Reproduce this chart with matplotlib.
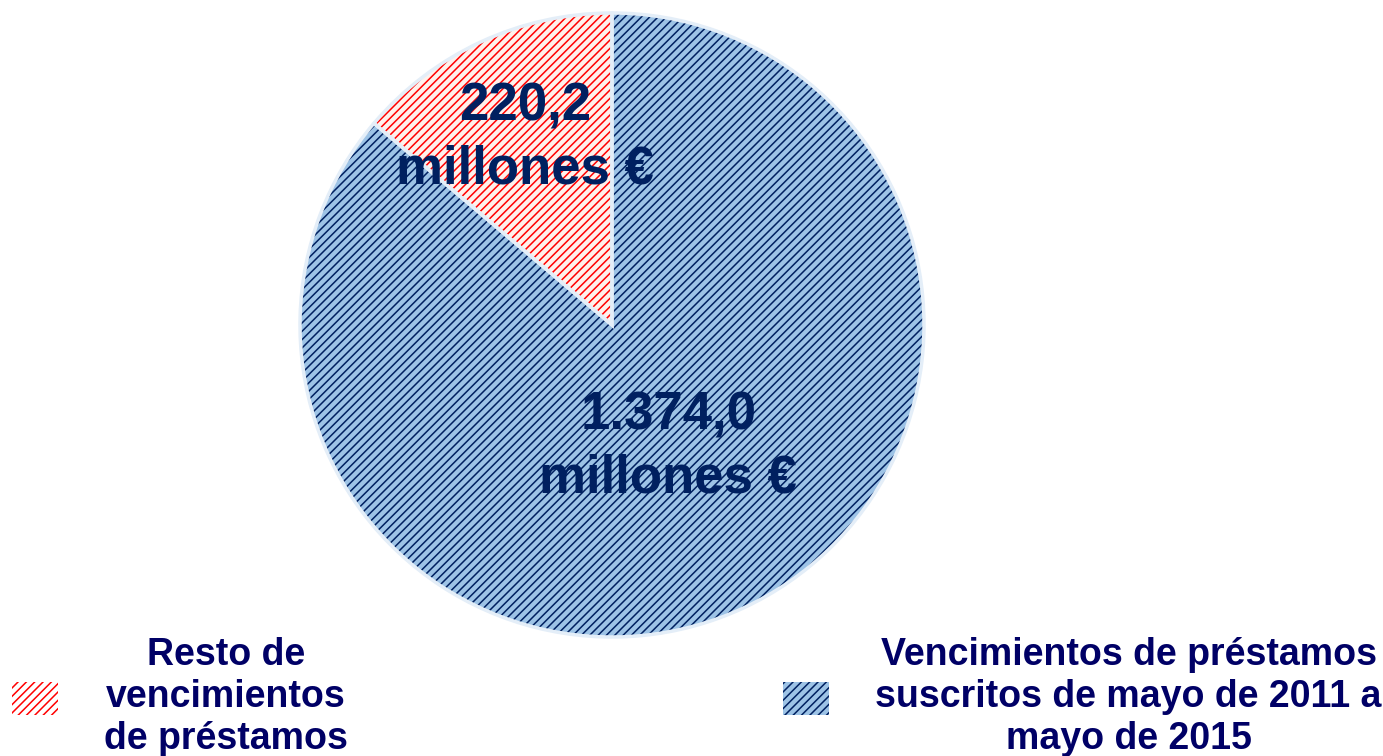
import numpy as np
import matplotlib
matplotlib.use("Agg")
import matplotlib.pyplot as plt
from matplotlib.patches import Patch

# ── data ────────────────────────────────────────────────────────────────────
labels = [
    "Vencimientos de préstamos\nsuscritos de mayo de 2011 a\nmayo de 2015",
    "Resto de\nvencimientos\nde préstamos",
]
values = [1374.0, 220.2]
value_text = ["1.374,0\nmillones €", "220,2\nmillones €"]

# ── style ───────────────────────────────────────────────────────────────────
FACE   = ["#9DC3E6", "#FFF1EC"]
HATCH  = ["#002060", "#FF0000"]
NAVY   = "#002060"
LEGTXT = "#000066"
LBL_R  = [0.43, 0.66]      # label distance from centre, per slice

plt.rcParams["font.family"] = ["Liberation Sans", "DejaVu Sans"]
plt.rcParams["hatch.linewidth"] = 1.1

fig = plt.figure(figsize=(13.83, 7.56), dpi=100)
ax = fig.add_axes([300 / 1383, 119 / 756, 624 / 1383, 624 / 756])

wedges, _ = ax.pie(values, startangle=90, counterclock=False, radius=1,
                   wedgeprops=dict(linewidth=0))
for w, fc, hc in zip(wedges, FACE, HATCH):
    w.set_facecolor(fc)
    w.set_edgecolor(hc)
    w.set_hatch("////")

# light outline round the slices
ax.pie(values, startangle=90, counterclock=False, radius=1,
       wedgeprops=dict(fill=False, edgecolor="#E4EEF8", linewidth=2.5))

for w, txt, r in zip(wedges, value_text, LBL_R):
    mid = np.deg2rad((w.theta1 + w.theta2) / 2)
    ax.text(r * np.cos(mid), r * np.sin(mid), txt, ha="center", va="center",
            fontsize=38, fontweight="bold", color=NAVY, linespacing=1.33)

ax.set_xlim(-1, 1)
ax.set_ylim(-1, 1)
ax.set_aspect("equal")
ax.axis("off")

# legend: red entry first (left), blue entry second (right)
handles = [Patch(facecolor="white", edgecolor=HATCH[1], hatch="////", linewidth=0),
           Patch(facecolor=FACE[0], edgecolor=HATCH[0], hatch="////", linewidth=0)]
leg = fig.legend(handles, [labels[1], labels[0]], loc="upper left",
                 bbox_to_anchor=(12 / 1383, 1 - 637 / 756), ncol=2, frameon=False,
                 prop=dict(size=27, weight="bold"), handlelength=1.23,
                 handleheight=1.0, handletextpad=1.23, columnspacing=11.6,
                 borderpad=0, borderaxespad=0)
for t in leg.get_texts():
    t.set_color(LEGTXT)
    t.set_multialignment("center")
    t.set_linespacing(1.22)

fig.savefig("out.png", dpi=100, facecolor="white")
